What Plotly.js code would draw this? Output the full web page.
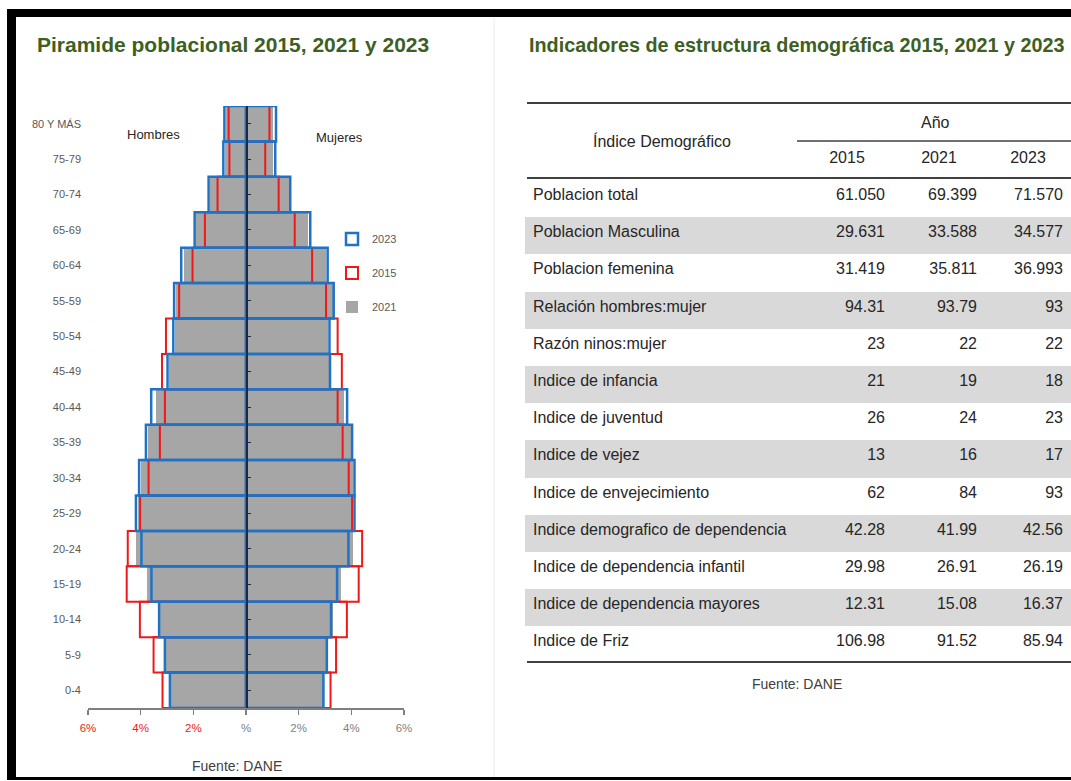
<!DOCTYPE html>
<html>
<head>
<meta charset="utf-8">
<script src="https://cdn.plot.ly/plotly-3.0.1.min.js"></script>
<style>
  html, body { margin: 0; padding: 0; background: #fff; }
  #chart { width: 1071px; height: 781px; }
</style>
</head>
<body>
<div id="chart"></div>
<script>
// grupos de edad (de abajo hacia arriba)
const ageGroups = ["0-4", "5-9", "10-14", "15-19", "20-24", "25-29", "30-34", "35-39",
    "40-44", "45-49", "50-54", "55-59", "60-64", "65-69", "70-74", "75-79", "80 Y MÁS"];

// porcentajes por sexo y año
const hombres2015 = [3.17, 3.51, 4.03, 4.53, 4.49, 4.02, 3.70, 3.27, 3.08, 3.19, 3.04, 2.54, 2.03, 1.56, 1.08, 0.63, 0.66];
const mujeres2015 = [3.21, 3.42, 3.83, 4.28, 4.41, 4.03, 3.90, 3.67, 3.48, 3.64, 3.48, 3.04, 2.51, 1.85, 1.24, 0.73, 0.89];
const hombres2021 = [2.92, 3.13, 3.32, 3.76, 4.18, 4.12, 3.99, 3.74, 3.42, 2.92, 2.69, 2.66, 2.37, 1.90, 1.36, 0.81, 0.76];
const mujeres2021 = [2.98, 3.10, 3.29, 3.61, 4.05, 4.05, 4.05, 3.99, 3.74, 3.17, 3.10, 3.29, 3.02, 2.36, 1.62, 1.01, 1.04];
const hombres2023 = [2.89, 3.08, 3.30, 3.59, 3.97, 4.18, 4.06, 3.80, 3.60, 2.98, 2.76, 2.73, 2.46, 1.95, 1.42, 0.86, 0.82];
const mujeres2023 = [2.94, 3.07, 3.23, 3.46, 3.89, 4.12, 4.12, 4.03, 3.84, 3.19, 3.17, 3.33, 3.10, 2.44, 1.68, 1.11, 1.14];

const xTickVals = [-6, -4, -2, 0, 2, 4, 6];
const xTickText = ["6%", "4%", "2%", "%", "2%", "4%", "6%"];

// tabla de indicadores
const tableYears = ["2015", "2021", "2023"];
const indicators = ["Poblacion total", "Poblacion Masculina", "Poblacion femenina", "Relación hombres:mujer",
    "Razón ninos:mujer", "Indice de infancia", "Indice de juventud", "Indice de vejez",
    "Indice de envejecimiento", "Indice demografico de dependencia", "Indice de dependencia infantil",
    "Indice de dependencia mayores", "Indice de Friz"];
const vals2015 = ["61.050", "29.631", "31.419", "94.31", "23", "21", "26", "13", "62", "42.28", "29.98", "12.31", "106.98"];
const vals2021 = ["69.399", "33.588", "35.811", "93.79", "22", "19", "24", "16", "84", "41.99", "26.91", "15.08", "91.52"];
const vals2023 = ["71.570", "34.577", "36.993", "93", "22", "18", "23", "17", "93", "42.56", "26.19", "16.37", "85.94"];

const W = 1071, H = 781;
const px = v => v / W;
const py = v => 1 - v / H;

const FONT = "'Liberation Sans', Arial, sans-serif";
const GREEN = "#3e5f23";
const BLUE = "#1f72c4";
const RED = "#f01818";
const GRAY = "#a6a6a6";

const neg = arr => arr.map(v => -v);

function barTrace(x, name, style, showlegend, legend) {
    return Object.assign({
        type: "bar", orientation: "h", x: x, y: ageGroups, name: name,
        hoverinfo: "skip", showlegend: showlegend, legend: legend
    }, style);
}

const grayStyle = {marker: {color: GRAY, line: {width: 0}}};
const redStyle = {marker: {color: "rgba(0,0,0,0)", line: {color: RED, width: 2}}};
const blueStyle = {marker: {color: "rgba(0,0,0,0)", line: {color: BLUE, width: 2.5}}};

const rowFill = indicators.map((_, i) => i % 2 === 1 ? "#d9d9d9" : "#ffffff");

const traces = [
    barTrace(neg(hombres2021), "2021", grayStyle, true, "legend3"),
    barTrace(mujeres2021, "2021", grayStyle, false, "legend3"),
    barTrace(neg(hombres2015), "2015", redStyle, true, "legend2"),
    barTrace(mujeres2015, "2015", redStyle, false, "legend2"),
    barTrace(neg(hombres2023), "2023", blueStyle, true, "legend"),
    barTrace(mujeres2023, "2023", blueStyle, false, "legend"),
    // eje central (y2) con marcas por grupo
    {type: "scatter", mode: "markers", x: ageGroups.map(() => 0), y: ageGroups, yaxis: "y2",
        marker: {opacity: 0}, hoverinfo: "skip", showlegend: false},
    {
        type: "table",
        domain: {x: [px(525), 1], y: [py(668), py(143)]},
        columnwidth: [276, 92, 92, 86],
        header: {
            values: [""].concat(tableYears),
            align: "center", height: 37,
            fill: {color: "#ffffff"}, line: {width: 0, color: "#ffffff"},
            font: {family: FONT, size: 16, color: "#262626"}
        },
        cells: {
            values: [indicators, vals2015, vals2021, vals2023],
            align: ["left", "right", "right", "right"], height: 37.2,
            fill: {color: [rowFill, rowFill, rowFill, rowFill]},
            line: {width: 0, color: "#ffffff"},
            font: {family: FONT, size: 16, color: "#262626"}
        }
    }
];

const legendBase = {
    xanchor: "left", yanchor: "middle", bgcolor: "rgba(0,0,0,0)", borderwidth: 0,
    itemwidth: 30, font: {family: FONT, size: 11, color: "#595959"}
};

const hline = (x0, x1, y, w, c) => ({type: "line", xref: "paper", yref: "paper",
    x0: px(x0), x1: px(x1), y0: py(y), y1: py(y), line: {color: c, width: w}});
const box = (x0, x1, y0, y1) => ({type: "rect", xref: "paper", yref: "paper",
    x0: px(x0), x1: px(x1), y0: py(y0), y1: py(y1), fillcolor: "#000", line: {width: 0}, layer: "above"});
const label = (text, x, y, size, color, anchor, bold) => ({
    text: bold ? `<b>${text}</b>` : text, x: px(x), y: py(y), xref: "paper", yref: "paper",
    xanchor: anchor || "center", yanchor: "middle", showarrow: false,
    font: {family: FONT, size: size, color: color}
});

const layout = {
    width: W, height: H,
    margin: {l: 0, r: 0, t: 0, b: 0},
    paper_bgcolor: "#ffffff", plot_bgcolor: "rgba(0,0,0,0)",
    barmode: "overlay", bargap: 0,
    xaxis: {
        domain: [px(88), px(404)], range: [-6, 6], fixedrange: true,
        tickvals: xTickVals,
        ticktext: xTickText.map((t, i) => xTickVals[i] < 0 ? `<span style="color:${RED}">${t}</span>` : t),
        ticks: "outside", ticklen: 5, tickcolor: "#7f7f7f", tickwidth: 1.5,
        showline: true, linecolor: "#7f7f7f", linewidth: 1.5,
        showgrid: false, zeroline: false, ticklabelstandoff: 4,
        tickfont: {family: FONT, size: 11.5, color: "#7f7f7f"}
    },
    yaxis: {
        domain: [py(708), py(106)], type: "category", categoryarray: ageGroups,
        range: [-0.5, ageGroups.length - 0.5], fixedrange: true,
        showgrid: false, zeroline: false, showline: false, ticks: "",
        ticklabelstandoff: 6,
        tickfont: {family: FONT, size: 11, color: "#595959"}
    },
    yaxis2: {
        overlaying: "y", anchor: "free", position: px(246), side: "right",
        type: "category", categoryarray: ageGroups,
        range: [-0.5, ageGroups.length - 0.5], fixedrange: true,
        showgrid: false, zeroline: false, showticklabels: false,
        showline: true, linecolor: "#1c2a48", linewidth: 1.5,
        ticks: "outside", ticklen: 3, tickcolor: "#1c2a48"
    },
    legend: Object.assign({x: px(332), y: py(239)}, legendBase),
    legend2: Object.assign({x: px(332), y: py(273)}, legendBase),
    legend3: Object.assign({x: px(332), y: py(307)}, legendBase),
    shapes: [
        // marco negro
        box(7, W, 9, 17),
        box(7, 16, 9, 780),
        box(7, W, 777, 780),
        // separador
        {type: "line", xref: "paper", yref: "paper", x0: px(494), x1: px(494), y0: py(17), y1: py(777),
            line: {color: "#ececec", width: 1}},
        // líneas de la tabla
        hline(527, W, 103, 2, "#404040"),
        hline(797, W, 141, 1.5, "#404040"),
        hline(527, W, 178, 2, "#404040"),
        hline(527, W, 662, 2, "#404040")
    ],
    annotations: [
        label("Piramide poblacional 2015, 2021 y 2023", 35, 45, 21, GREEN, "left", true),
        label("Indicadores de estructura demográfica 2015, 2021 y 2023", 527, 45, 19.8, GREEN, "left", true),
        label("Hombres", 153, 134, 13, "#262626"),
        label("Mujeres", 339, 137, 13, "#262626"),
        label("Fuente: DANE", 237, 766, 14, "#404040"),
        label("Índice Demográfico", 662, 141, 16, "#262626"),
        label("Año", 935, 123, 16, "#262626"),
        label("Fuente: DANE", 797, 684, 14, "#404040")
    ]
};

Plotly.newPlot("chart", traces, layout, {displayModeBar: false, staticPlot: true});
</script>
</body>
</html>
